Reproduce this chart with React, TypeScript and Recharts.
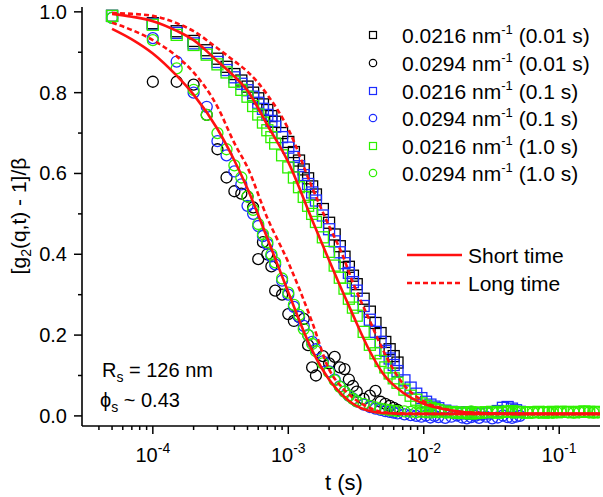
import React from "react";
import { ComposedChart, Scatter, Line, XAxis, YAxis } from "recharts";

const FONT = '"Liberation Sans", Arial, Helvetica, sans-serif';
const RED = "#ff1010";
const BLACK = "#000000";
const BLUE = "#1c2cff";
const GREEN = "#2ef000";

// multi-tau lag times (s)
const lagTimes = [
  0.00005, 0.0001, 0.00015, 0.0002, 0.00025, 0.0003, 0.00035, 0.0004, 0.00045, 0.0005, 0.00055, 0.0006, 0.00065, 0.0007, 0.00075, 0.0008,
  0.0009, 0.001, 0.0011, 0.0012, 0.0013, 0.0014, 0.0015, 0.0016,
  0.0018, 0.002, 0.0022, 0.0024, 0.0026, 0.0028, 0.003, 0.0032,
  0.0036, 0.004, 0.0044, 0.0048, 0.0052, 0.0056, 0.006, 0.0064,
  0.0072, 0.008, 0.0088, 0.0096, 0.0104, 0.0112, 0.012, 0.0128,
  0.0144, 0.016, 0.0176, 0.0192, 0.0208, 0.0224, 0.024, 0.0256,
  0.0288, 0.032, 0.0352, 0.0384, 0.0416, 0.0448, 0.048, 0.0512,
  0.0576, 0.064, 0.0704, 0.0768, 0.0832, 0.0896, 0.096, 0.1024,
  0.1152, 0.128, 0.1408, 0.1536, 0.1664, 0.1792, 0.192,
];

// q = 0.0216 nm^-1
const sq001 = [
  0.99, 0.972, 0.952, 0.928, 0.905, 0.884, 0.864, 0.846, 0.83, 0.815, 0.8, 0.786, 0.771, 0.757, 0.742, 0.728,
  0.7, 0.678, 0.653, 0.632, 0.61, 0.588, 0.568, 0.548,
  0.512, 0.478, 0.449, 0.42, 0.394, 0.369, 0.347, 0.326,
  0.29, 0.258, 0.23, 0.205, 0.183, 0.165, 0.148, 0.132,
];
const sq01 = [
  0.99, 0.97, 0.948, 0.922, 0.898, 0.876, 0.856, 0.838, 0.822, 0.806, 0.79, 0.775, 0.76, 0.745, 0.73, 0.716,
  0.69, 0.664, 0.641, 0.618, 0.596, 0.574, 0.553, 0.533,
  0.496, 0.462, 0.432, 0.405, 0.378, 0.354, 0.331, 0.31,
  0.272, 0.238, 0.208, 0.183, 0.161, 0.142, 0.126, 0.111,
  0.088, 0.07, 0.055, 0.044, 0.035, 0.028, 0.023, 0.019,
  0.013, 0.01, 0.008, 0.006, 0.009, 0.005, 0.007, 0.004,
  0.006, 0.009, 0.012, 0.02, 0.022, 0.018, 0.014, 0.01,
];
const sq1 = [
  0.99, 0.968, 0.943, 0.918, 0.894, 0.87, 0.85, 0.827, 0.807, 0.79, 0.767, 0.746, 0.726, 0.707, 0.69, 0.674,
  0.645, 0.615, 0.59, 0.566, 0.542, 0.52, 0.5, 0.48,
  0.442, 0.406, 0.372, 0.342, 0.315, 0.29, 0.268, 0.248,
  0.208, 0.176, 0.155, 0.136, 0.12, 0.105, 0.093, 0.082,
  0.065, 0.05, 0.04, 0.031, 0.025, 0.02, 0.017, 0.014,
  0.011, 0.009, 0.008, 0.007, 0.008, 0.006, 0.007, 0.008,
  0.009, 0.01, 0.008, 0.01, 0.011, 0.012, 0.01, 0.009,
  0.008, 0.009, 0.01, 0.008, 0.009, 0.01, 0.009, 0.01,
  0.01, 0.009, 0.01, 0.011, 0.01, 0.009, 0.01,
];

// q = 0.0294 nm^-1
const ci001 = [
  null, 0.827, 0.827, 0.82, 0.745, 0.66, 0.59, 0.556, 0.55, 0.543, 0.516, 0.388, 0.43, 0.4, 0.37, 0.31,
  0.3, 0.252, 0.235, 0.245, 0.24, 0.175, 0.12, 0.1,
  0.148, 0.13, 0.146, 0.12, 0.116, 0.09, 0.074, 0.06,
  0.042, 0.05, 0.062, 0.035, 0.03, 0.025, 0.02, 0.015,
];
const ci01 = [
  0.985, 0.935, 0.877, 0.8, 0.765, 0.68, 0.645, 0.605, 0.573, 0.52, 0.5, 0.47, 0.445, 0.425, 0.395, 0.375,
  0.335, 0.3, 0.27, 0.245, 0.223, 0.2, 0.183, 0.165,
  0.135, 0.11, 0.09, 0.073, 0.06, 0.05, 0.043, 0.036,
  0.028, 0.022, 0.018, 0.015, 0.012, 0.01, 0.008, 0.006,
  0.004, 0.002, 0.0, -0.002, 0.001, -0.004, 0.0, -0.003,
  -0.005, -0.002, 0.001, -0.004, -0.006, -0.003, 0.0, -0.005,
  -0.002, -0.006, -0.004, 0.001, -0.003, -0.005, -0.002, 0.0,
];
const ci1 = [
  0.985, 0.93, 0.86, 0.807, 0.745, 0.7, 0.66, 0.62, 0.59, 0.543, 0.51, 0.475, 0.45, 0.43, 0.4, 0.38,
  0.34, 0.305, 0.275, 0.25, 0.215, 0.2, 0.178, 0.16,
  0.13, 0.108, 0.088, 0.072, 0.06, 0.05, 0.042, 0.036,
  0.03, 0.025, 0.021, 0.018, 0.016, 0.014, 0.013, 0.012,
  0.011, 0.01, 0.009, 0.01, 0.009, 0.008, 0.01, 0.009,
  0.008, 0.009, 0.01, 0.008, 0.009, 0.011, 0.009, 0.008,
  0.009, 0.01, 0.008, 0.009, 0.01, 0.008, 0.009, 0.01,
  0.009, 0.008, 0.009, 0.01, 0.009, 0.008, 0.009, 0.01,
  0.009, 0.008, 0.009, 0.01, 0.009, 0.008, 0.009,
];

// model curves
const fitTimes = [
  0.00005, 0.00007, 0.0001, 0.00015, 0.0002, 0.0003, 0.0004, 0.0005, 0.0007, 0.001, 0.0015,
  0.002, 0.0025, 0.003, 0.004, 0.005, 0.007, 0.01, 0.015, 0.02, 0.05, 0.2,
];
const shortQ1 = [0.995, 0.988, 0.977, 0.953, 0.93, 0.878, 0.84, 0.805, 0.72, 0.628, 0.485, 0.385, 0.31, 0.25, 0.16, 0.105, 0.058, 0.03, 0.015, 0.009, 0.005, 0.005];
const longQ1 = [0.997, 0.995, 0.99, 0.972, 0.952, 0.91, 0.878, 0.852, 0.795, 0.71, 0.565, 0.47, 0.4, 0.33, 0.235, 0.163, 0.08, 0.036, 0.016, 0.009, 0.005, 0.005];
const shortQ2 = [0.958, 0.932, 0.897, 0.842, 0.795, 0.71, 0.632, 0.562, 0.44, 0.306, 0.162, 0.09, 0.052, 0.03, 0.012, 0.007, 0.005, 0.005, 0.005, 0.005, 0.005, 0.005];
const longQ2 = [0.973, 0.955, 0.93, 0.89, 0.85, 0.765, 0.675, 0.615, 0.49, 0.38, 0.232, 0.115, 0.07, 0.045, 0.02, 0.009, 0.006, 0.005, 0.005, 0.005, 0.005, 0.005];

const xTicks = [
  0.00004, 0.00005, 0.00006, 0.00007, 0.00008, 0.00009,
  0.0001, 0.0002, 0.0003, 0.0004, 0.0005, 0.0006, 0.0007, 0.0008, 0.0009,
  0.001, 0.002, 0.003, 0.004, 0.005, 0.006, 0.007, 0.008, 0.009,
  0.01, 0.02, 0.03, 0.04, 0.05, 0.06, 0.07, 0.08, 0.09,
  0.1,
];
const xMajor = [0.0001, 0.001, 0.01, 0.1];
const yTicks = [0, 0.1, 0.2, 0.3, 0.4, 0.5, 0.6, 0.7, 0.8, 0.9, 1.0];

const toPoints = (vals: (number | null)[]) =>
  vals.map((v, i) => ({ t: lagTimes[i], v })).filter((p) => p.v !== null);
const toCurve = (vals: number[]) => vals.map((v, i) => ({ t: fitTimes[i], v }));

const isMajorX = (v: number) => xMajor.some((m) => Math.abs(v - m) / m < 1e-6);
const isMajorY = (v: number) => Math.round(v * 10) % 2 === 0;

const square = (color: string) => (p: any) =>
  <rect x={p.cx - 5.5} y={p.cy - 5.5} width={11} height={11} fill="none" stroke={color} strokeWidth={1.3} />;
const circle = (color: string) => (p: any) =>
  <circle cx={p.cx} cy={p.cy} r={5.5} fill="none" stroke={color} strokeWidth={1.3} />;

const BottomTick = ({ x, y, payload }: any) => {
  const major = isMajorX(payload.value);
  const exp = Math.round(Math.log10(payload.value));
  return (
    <g>
      <line x1={x} x2={x} y1={y} y2={y + (major ? 8 : 4)} stroke="#000" strokeWidth={1.5} />
      {major && (
        <text x={x} y={y + 36} textAnchor="middle" fontSize={20} fontFamily={FONT} fill="#000">
          10<tspan dy={-9} fontSize={14}>{exp}</tspan>
        </text>
      )}
    </g>
  );
};
const TopTick = ({ x, y, payload }: any) => (
  <line x1={x} x2={x} y1={y} y2={y + (isMajorX(payload.value) ? 8 : 4)} stroke="#000" strokeWidth={1.5} />
);
const LeftTick = ({ x, y, payload }: any) => {
  const major = isMajorY(payload.value);
  return (
    <g>
      <line x1={x} x2={x - (major ? 8 : 4)} y1={y} y2={y} stroke="#000" strokeWidth={1.5} />
      {major && (
        <text x={x - 15} y={y} dy={7} textAnchor="end" fontSize={20} fontFamily={FONT} fill="#000">
          {payload.value.toFixed(1)}
        </text>
      )}
    </g>
  );
};
const RightTick = ({ x, y, payload }: any) => (
  <line x1={x} x2={x - (isMajorY(payload.value) ? 8 : 4)} y1={y} y2={y} stroke="#000" strokeWidth={1.5} />
);

const legendRows = [
  { q: "0.0216", s: "(0.01 s)", color: BLACK, shape: "square", y: 35 },
  { q: "0.0294", s: "(0.01 s)", color: BLACK, shape: "circle", y: 63 },
  { q: "0.0216", s: "(0.1 s)", color: BLUE, shape: "square", y: 91 },
  { q: "0.0294", s: "(0.1 s)", color: BLUE, shape: "circle", y: 118 },
  { q: "0.0216", s: "(1.0 s)", color: GREEN, shape: "square", y: 146 },
  { q: "0.0294", s: "(1.0 s)", color: GREEN, shape: "circle", y: 173 },
];

export default function App() {
  const axisLine = { stroke: "#000", strokeWidth: 1.6 };
  const lineProps: any = { type: "monotone", stroke: RED, strokeWidth: 2.6, dot: false, isAnimationActive: false, zIndex: 900 };
  return (
    <div style={{ position: "absolute", left: 0, top: 0, width: 603, height: 497, background: "#fff" }}>
      <ComposedChart width={603} height={497} margin={{ top: 7, right: 3, bottom: 0, left: 0 }}>
        <XAxis
          dataKey="t"
          type="number"
          scale="log"
          domain={[0.00003, 0.2]}
          allowDataOverflow
          ticks={xTicks}
          interval={0}
          height={71}
          tickSize={0}
          tickMargin={0}
          axisLine={axisLine}
          tick={<BottomTick />}
        />
        <XAxis
          xAxisId="top"
          orientation="top"
          dataKey="t"
          type="number"
          scale="log"
          domain={[0.00003, 0.2]}
          allowDataOverflow
          ticks={xTicks}
          interval={0}
          height={0}
          tickSize={0}
          tickMargin={0}
          axisLine={axisLine}
          tick={<TopTick />}
        />
        <YAxis
          type="number"
          domain={[-0.025, 1.012]}
          allowDataOverflow
          ticks={yTicks}
          interval={0}
          width={82}
          tickSize={0}
          tickMargin={0}
          axisLine={axisLine}
          tick={<LeftTick />}
        />
        <YAxis
          yAxisId="right"
          orientation="right"
          type="number"
          domain={[-0.025, 1.012]}
          allowDataOverflow
          ticks={yTicks}
          interval={0}
          width={0}
          tickSize={0}
          tickMargin={0}
          axisLine={axisLine}
          tick={<RightTick />}
        />
        <Scatter data={toPoints(sq001)} dataKey="v" shape={square(BLACK)} isAnimationActive={false} />
        <Scatter data={toPoints(ci001)} dataKey="v" shape={circle(BLACK)} isAnimationActive={false} />
        <Scatter data={toPoints(sq01)} dataKey="v" shape={square(BLUE)} isAnimationActive={false} />
        <Scatter data={toPoints(ci01)} dataKey="v" shape={circle(BLUE)} isAnimationActive={false} />
        <Scatter data={toPoints(sq1)} dataKey="v" shape={square(GREEN)} isAnimationActive={false} />
        <Scatter data={toPoints(ci1)} dataKey="v" shape={circle(GREEN)} isAnimationActive={false} />
        <Line data={toCurve(shortQ1)} dataKey="v" {...lineProps} />
        <Line data={toCurve(shortQ2)} dataKey="v" {...lineProps} />
        <Line data={toCurve(longQ1)} dataKey="v" strokeDasharray="5 3" {...lineProps} />
        <Line data={toCurve(longQ2)} dataKey="v" strokeDasharray="5 3" {...lineProps} />
      </ComposedChart>

      <svg width={603} height={497} style={{ position: "absolute", left: 0, top: 0, pointerEvents: "none" }} fontFamily={FONT}>
        {legendRows.map((r, i) => (
          <g key={i}>
            {r.shape === "square" ? (
              <rect x={369.5} y={r.y - 3.5} width={7} height={7} fill="none" stroke={r.color} strokeWidth={1.2} />
            ) : (
              <circle cx={373} cy={r.y} r={3.7} fill="none" stroke={r.color} strokeWidth={1.2} />
            )}
            <text x={402} y={r.y + 7.5} fontSize={21} fill="#000">
              {r.q} nm<tspan dy={-9} fontSize={13}>-1</tspan>
              <tspan dy={9}> {r.s}</tspan>
            </text>
          </g>
        ))}
        <line x1={407} x2={462} y1={255} y2={255} stroke={RED} strokeWidth={2.6} />
        <text x={468} y={262.5} fontSize={21} fill="#000">Short time</text>
        <line x1={407} x2={462} y1={283} y2={283} stroke={RED} strokeWidth={2.6} strokeDasharray="5 3" />
        <text x={468} y={290.5} fontSize={21} fill="#000">Long time</text>

        <text x={102} y={377} fontSize={20} fill="#000">
          R<tspan dy={5} fontSize={14}>s</tspan>
          <tspan dy={-5}> = 126 nm</tspan>
        </text>
        <text x={100} y={407} fontSize={20} fill="#000">
          ϕ<tspan dy={5} fontSize={14}>s</tspan>
          <tspan dy={-5}> ~ 0.43</tspan>
        </text>

        <text x={344} y={490} fontSize={22} textAnchor="middle" fill="#000">t (s)</text>
        <text transform="translate(26,216) rotate(-90)" fontSize={21} textAnchor="middle" fill="#000">
          [g<tspan dy={5} fontSize={14}>2</tspan>
          <tspan dy={-5}>(q,t) - 1]/β</tspan>
        </text>
      </svg>
    </div>
  );
}
